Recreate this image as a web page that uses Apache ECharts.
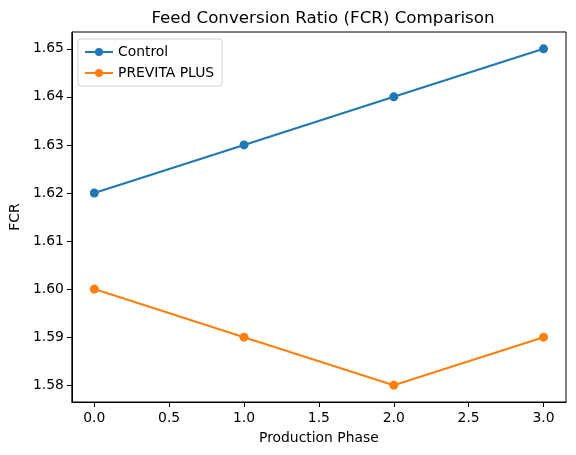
<!DOCTYPE html>
<html>
<head>
<meta charset="utf-8">
<script src="https://cdn.jsdelivr.net/npm/echarts@6/dist/echarts.min.js"></script>
<style>
  html, body { margin: 0; padding: 0; background: #fff; }
  #main { width: 576px; height: 455px; }
</style>
</head>
<body>
<div id="main"></div>
<script>
var phases = [0, 1, 2, 3];
var controlFcr = [1.62, 1.63, 1.64, 1.65];
var previtaFcr = [1.60, 1.59, 1.58, 1.59];
var xTicks = [0, 0.5, 1, 1.5, 2, 2.5, 3];
var yTicks = [1.58, 1.59, 1.60, 1.61, 1.62, 1.63, 1.64, 1.65];

function pairs(xs, ys) {
    return xs.map(function (x, i) { return [x, ys[i]]; });
}

var myChart = echarts.init(document.getElementById('main'));
var font = 'DejaVu Sans';

var option = {
    backgroundColor: '#fff',
    textStyle: { fontFamily: font },
    title: {
        text: 'Feed Conversion Ratio (FCR) Comparison',
        left: 318,
        top: 5,
        textAlign: 'center',
        textStyle: { fontFamily: font, fontSize: 16.7, fontWeight: 'normal', color: '#000' }
    },
    grid: {
        left: 70, top: 32, right: 10, bottom: 53,
        show: true, borderColor: '#000', borderWidth: 1,
        containLabel: false
    },
    legend: {
        left: 78, top: 39,
        orient: 'vertical',
        itemWidth: 28, itemHeight: 10, itemGap: 7,
        padding: [6, 8, 6, 6],
        backgroundColor: 'rgba(255,255,255,0.8)',
        borderColor: '#d0d0d0', borderWidth: 1, borderRadius: 3,
        textStyle: { fontFamily: font, fontSize: 13.9, color: '#000' },
        data: ['Control', 'PREVITA PLUS']
    },
    xAxis: {
        type: 'value',
        min: -0.15, max: 3.15,
        name: 'Production Phase',
        nameLocation: 'middle',
        nameGap: 29,
        nameTextStyle: { fontFamily: font, fontSize: 13.9, color: '#000' },
        axisLine: { show: true, onZero: false, lineStyle: { color: '#000', width: 1 } },
        axisTick: { show: true, length: 5, lineStyle: { color: '#000' }, customValues: xTicks },
        axisLabel: {
            margin: 9, color: '#000', fontFamily: font, fontSize: 13.9,
            customValues: xTicks,
            formatter: function (v) { return v.toFixed(1); }
        },
        splitLine: { show: false }
    },
    yAxis: {
        type: 'value',
        min: 1.5765, max: 1.6535,
        name: 'FCR',
        nameLocation: 'middle',
        nameGap: 49,
        nameRotate: 90,
        nameTextStyle: { fontFamily: font, fontSize: 13.9, color: '#000' },
        axisLine: { show: true, onZero: false, lineStyle: { color: '#000', width: 1 } },
        axisTick: { show: true, length: 5, lineStyle: { color: '#000' }, customValues: yTicks },
        axisLabel: {
            margin: 8, color: '#000', fontFamily: font, fontSize: 13.9,
            customValues: yTicks,
            formatter: function (v) { return v.toFixed(2); }
        },
        splitLine: { show: false }
    },
    series: [
        {
            name: 'Control',
            type: 'line',
            data: pairs(phases, controlFcr),
            color: '#1f77b4',
            symbol: 'circle', symbolSize: 9,
            lineStyle: { width: 2.1 },
            animation: false
        },
        {
            name: 'PREVITA PLUS',
            type: 'line',
            data: pairs(phases, previtaFcr),
            color: '#ff7f0e',
            symbol: 'circle', symbolSize: 9,
            lineStyle: { width: 2.1 },
            animation: false
        }
    ]
};
myChart.setOption(option);
</script>
</body>
</html>
